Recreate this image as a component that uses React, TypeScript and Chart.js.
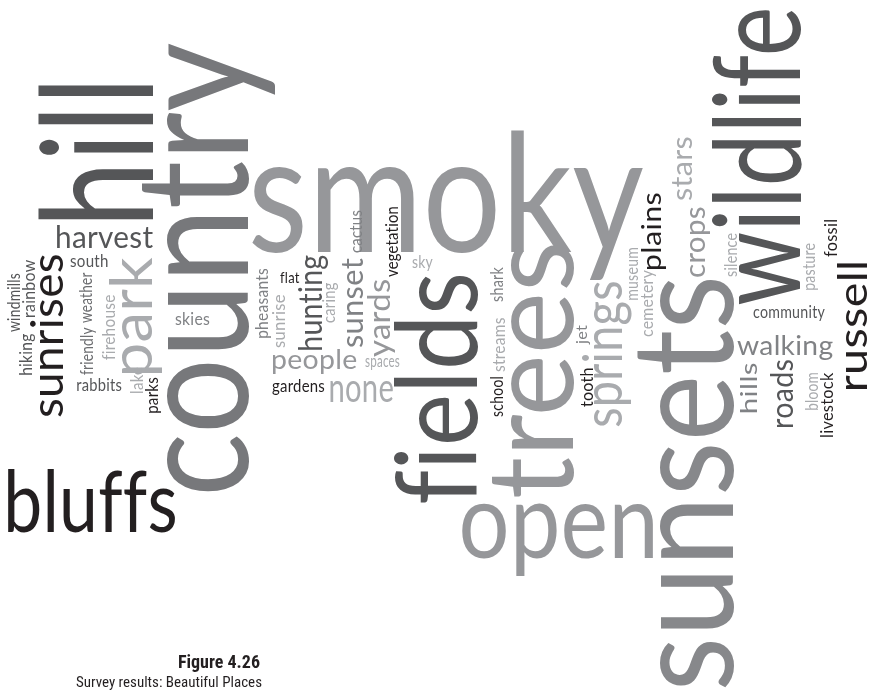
import React, { useEffect, useRef } from "react";
import { Chart, registerables } from "chart.js";

Chart.register(...registerables);

// ---- word cloud data ----
// words, orientation (0 = horizontal, 1 = vertical reading upward)
const words = [
  "smoky", "open", "bluffs", "harvest", "south", "skies", "rabbits", "flat", "people", "spaces",
  "gardens", "none", "sky", "community", "walking",
  "hill", "country", "wildlife", "fields", "trees", "sunsets", "sunrises", "park", "springs", "russell",
  "windmills", "hiking", "rainbow", "weather", "friendly", "firehouse", "lake", "parks", "pheasants", "sunrise",
  "hunting", "caring", "sunset", "cactus", "yards", "vegetation", "shark", "streams", "school", "jet",
  "tooth", "museum", "cemetery", "plains", "stars", "crops", "silence", "pasture", "fossil", "hills",
  "roads", "bloom", "livestock",
];
const orient = [
  0, 0, 0, 0, 0, 0, 0, 0, 0, 0,
  0, 0, 0, 0, 0,
  1, 1, 1, 1, 1, 1, 1, 1, 1, 1,
  1, 1, 1, 1, 1, 1, 1, 1, 1, 1,
  1, 1, 1, 1, 1, 1, 1, 1, 1, 1,
  1, 1, 1, 1, 1, 1, 1, 1, 1, 1,
  1, 1, 1,
];
// layout x (horizontal: left of word, vertical: baseline)
const layoutX = [
  252, 462, 8, 57, 70, 175, 77, 280, 272, 365,
  272, 330, 412, 753, 737,
  153, 248, 800, 477, 573, 733, 63, 152, 622, 867,
  20, 32, 35, 92, 93, 115, 143, 158, 268, 285,
  322, 335, 363, 362, 390, 398, 503, 505, 503, 587,
  593, 638, 653, 661, 692, 705, 737, 815, 837, 757,
  793, 818, 833,
];
// layout y (horizontal: baseline, vertical: start of word, bottom)
const layoutY = [
  252, 558, 532, 248, 267, 325, 391, 283, 369, 367,
  392, 402, 268, 318, 355,
  220, 492, 305, 503, 497, 688, 417, 373, 427, 390,
  332, 375, 317, 323, 375, 360, 393, 413, 338, 348,
  350, 323, 347, 253, 357, 277, 302, 372, 417, 345,
  407, 300, 337, 270, 201, 277, 277, 290, 257, 413,
  427, 410, 437,
];
// extent of each word along its reading direction
const span = [
  391, 191, 167, 96, 38, 35, 45, 20, 85, 35,
  53, 63, 21, 72, 96,
  135, 449, 295, 228, 252, 408, 162, 116, 145, 127,
  59, 41, 57, 51, 48, 65, 26, 36, 70, 53,
  95, 40, 89, 43, 77, 70, 35, 54, 40, 20,
  39, 52, 67, 77, 64, 70, 44, 47, 37, 50,
  67, 37, 65,
];
// weight (font size)
const weight = [
  165, 105, 86, 31, 17, 18, 18, 15, 27, 18,
  18, 40, 17, 17, 27,
  155, 158, 120, 112, 120, 142, 45, 58, 55, 41,
  18, 18, 18, 17, 18, 18, 17, 18, 18, 18,
  33, 18, 30, 18, 30, 18, 17, 17, 17, 16,
  17, 17, 17, 27, 29, 29, 17, 17, 17, 24,
  30, 17, 18,
];
// shade index into the palette
const shade = [
  3, 3, 0, 1, 1, 2, 1, 0, 3, 4,
  0, 4, 4, 1, 2,
  1, 5, 1, 1, 3, 6, 0, 4, 4, 0,
  1, 1, 1, 7, 7, 4, 4, 0, 2, 4,
  1, 4, 2, 2, 3, 0, 2, 4, 0, 2,
  0, 4, 4, 0, 4, 3, 4, 4, 0, 2,
  1, 4, 0,
];
const palette = ["#231f20", "#555658", "#808285", "#96979a", "#a9abae", "#77787b", "#87888b", "#6d6e71"];

const wordPlugin = {
  id: "wordCloudText",
  afterDatasetsDraw(chart: any) {
    const ctx: any = chart.ctx;
    const meta = chart.getDatasetMeta(0);
    const xScale = chart.scales.x;
    meta.data.forEach((pt: any, i: number) => {
      const px = pt.x;
      const py = pt.y;
      const len = Math.abs(xScale.getPixelForValue(span[i]) - xScale.getPixelForValue(0));
      ctx.save();
      ctx.font = `400 ${weight[i]}px Lato, "Noto Sans", sans-serif`;
      // a tiny letter spacing switches off the fi / ff ligatures
      if ("letterSpacing" in ctx) ctx.letterSpacing = "0.3px";
      if ("textRendering" in ctx) ctx.textRendering = "optimizeSpeed";
      ctx.textAlign = "left";
      ctx.textBaseline = "alphabetic";
      const m = ctx.measureText(words[i]);
      const ink = m.actualBoundingBoxLeft + m.actualBoundingBoxRight;
      const s = len / ink;
      ctx.translate(px, py);
      if (orient[i] === 1) ctx.rotate(-Math.PI / 2);
      ctx.scale(s, 1);
      ctx.fillStyle = palette[shade[i]];
      ctx.fillText(words[i], m.actualBoundingBoxLeft, 0);
      ctx.restore();
    });
  },
};

export default function App() {
  const ref = useRef<HTMLCanvasElement | null>(null);

  useEffect(() => {
    let chart: Chart | null = null;
    let cancelled = false;
    const build = () => {
      if (cancelled || !ref.current) return;
      chart = new Chart(ref.current, {
        type: "scatter",
        data: {
          datasets: [
            {
              data: words.map((_, i) => ({ x: layoutX[i], y: layoutY[i] })),
              pointRadius: 0,
              pointHoverRadius: 0,
            },
          ],
        },
        options: {
          animation: false,
          responsive: true,
          maintainAspectRatio: false,
          layout: { padding: 0 },
          events: [],
          plugins: { legend: { display: false }, tooltip: { enabled: false } },
          scales: {
            x: { type: "linear", min: 0, max: 869, display: false },
            y: { type: "linear", min: 0, max: 696, reverse: true, display: false },
          },
        },
        plugins: [wordPlugin],
      });
    };
    const fonts = (document as any).fonts;
    if (fonts && fonts.load) {
      fonts.load("40px Lato").then(build, build);
    } else build();
    return () => {
      cancelled = true;
      if (chart) chart.destroy();
    };
  }, []);

  const capFont = '"Liberation Sans Narrow", "Roboto Condensed", "DejaVu Sans Condensed", sans-serif';
  return (
    <div style={{ position: "fixed", left: 0, top: 0, width: 869, height: 696, background: "#fff" }}>
      <canvas ref={ref} />
      <div
        style={{
          position: "absolute", right: 869 - 260, top: 652, fontFamily: capFont,
          fontWeight: 700, fontSize: 18, lineHeight: "20px", color: "#231f20", whiteSpace: "nowrap",
        }}
      >
        Figure 4.26
      </div>
      <div
        style={{
          position: "absolute", right: 869 - 262, top: 673, fontFamily: capFont,
          fontWeight: 400, fontSize: 15, lineHeight: "18px", color: "#231f20", whiteSpace: "nowrap",
        }}
      >
        Survey results: Beautiful Places
      </div>
    </div>
  );
}
